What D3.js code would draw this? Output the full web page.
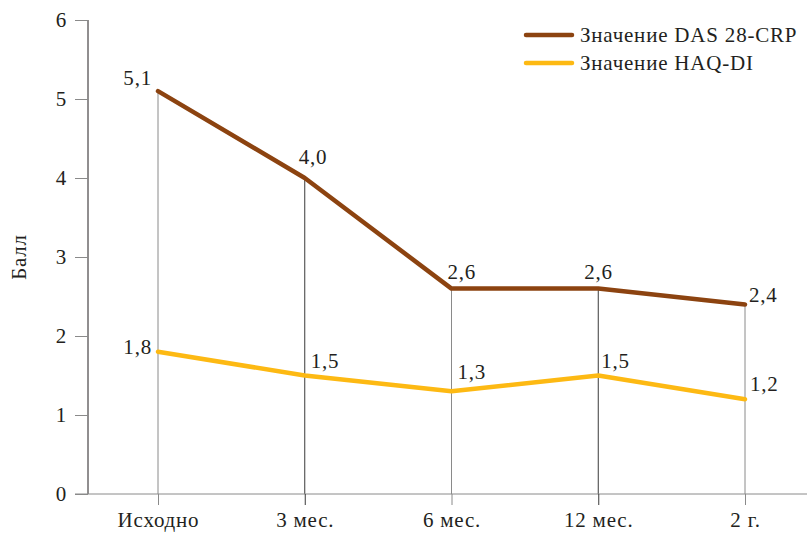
<!DOCTYPE html>
<html>
<head>
<meta charset="utf-8">
<script src="https://cdn.jsdelivr.net/npm/d3@7"></script>
<style>
  html, body { margin: 0; padding: 0; background: #fff; }
</style>
</head>
<body>
<svg id="chart" width="807" height="533"></svg>
<script>
const categories = ["Исходно", "3 мес.", "6 мес.", "12 мес.", "2 г."];
const das28 = [5.1, 4.0, 2.6, 2.6, 2.4];
const haqdi = [1.8, 1.5, 1.3, 1.5, 1.2];
const seriesNames = ["Значение DAS 28-CRP", "Значение HAQ-DI"];
const yTicks = [0, 1, 2, 3, 4, 5, 6];
const yTitle = "Балл";

const FONT = "'Liberation Serif', 'Times New Roman', serif";
const FS = 21;
const LS = 0.8;
const colors = ["#8c4310", "#fdb913"];
const svg = d3.select("#chart");
const fmt = v => d3.format(".1f")(v).replace(".", ",");

const x = d3.scalePoint().domain(categories).range([158, 745]);
const y = d3.scaleLinear().domain([0, 6]).range([494, 20]);

// drop lines from each point to the baseline
const dropColors = ["#8a8a8a", "#3a3a3a", "#8a8a8a", "#3a3a3a", "#8a8a8a"];
svg.append("g").selectAll("line").data(categories).join("line")
  .attr("x1", d => x(d)).attr("x2", d => x(d))
  .attr("y1", (d, i) => y(Math.max(das28[i], haqdi[i])))
  .attr("y2", y(0))
  .attr("stroke", (d, i) => dropColors[i]).attr("stroke-width", 1);

const txt = sel => sel.attr("font-family", FONT).attr("font-size", FS)
  .attr("letter-spacing", LS).attr("fill", "#231f20");

// y axis
const yAxis = svg.append("g").attr("transform", "translate(88,0)")
  .call(d3.axisLeft(y).tickValues(yTicks).tickSize(13).tickPadding(8).tickFormat(d3.format("d")));
yAxis.select(".domain").attr("stroke", "#231f20").attr("d", `M0,${y(6)}V${y(0)}`);
yAxis.selectAll(".tick line").attr("stroke", "#8a8a8a");
yAxis.selectAll(".tick text").call(txt);

// x axis
const xAxis = svg.append("g").attr("transform", `translate(0,${y(0)})`)
  .call(d3.axisBottom(x).tickSize(11).tickPadding(7));
xAxis.select(".domain").attr("stroke", "#8a8a8a").attr("d", "M75,0H807");
xAxis.selectAll(".tick line").attr("stroke", (d, i) => dropColors[i]);
xAxis.selectAll(".tick text").call(txt);

// y axis title
svg.append("text")
  .attr("transform", `translate(26,${y(3)}) rotate(-90)`)
  .attr("text-anchor", "middle").call(txt).text(yTitle);

// series lines
const line = d3.line().x((d, i) => x(categories[i])).y(d => y(d));
[das28, haqdi].forEach((s, k) => {
  svg.append("path").datum(s).attr("d", line)
    .attr("fill", "none").attr("stroke", colors[k])
    .attr("stroke-width", 4.5).attr("stroke-linejoin", "round").attr("stroke-linecap", "round");
});

// value labels
const dasOff = [[-6, -6, "end"], [-6, -14, "start"], [-4, -10, "start"], [-14, -10, "start"], [4, -2, "start"]];
const haqOff = [[-6, 2, "end"], [6, -8, "start"], [6, -12, "start"], [3, -8, "start"], [5, -8, "start"]];
[[das28, dasOff], [haqdi, haqOff]].forEach(([s, off]) => {
  svg.append("g").selectAll("text").data(s).join("text")
    .attr("x", (d, i) => x(categories[i]) + off[i][0])
    .attr("y", (d, i) => y(d) + off[i][1])
    .attr("text-anchor", (d, i) => off[i][2])
    .call(txt).text(fmt);
});

// legend
const legend = svg.append("g");
seriesNames.forEach((name, k) => {
  const ly = 35 + k * 28;
  legend.append("line").attr("x1", 526).attr("x2", 572).attr("y1", ly).attr("y2", ly)
    .attr("stroke", colors[k]).attr("stroke-width", 4.5).attr("stroke-linecap", "round");
  legend.append("text").attr("x", 580).attr("y", ly + 7).call(txt).text(name);
});
</script>
</body>
</html>
